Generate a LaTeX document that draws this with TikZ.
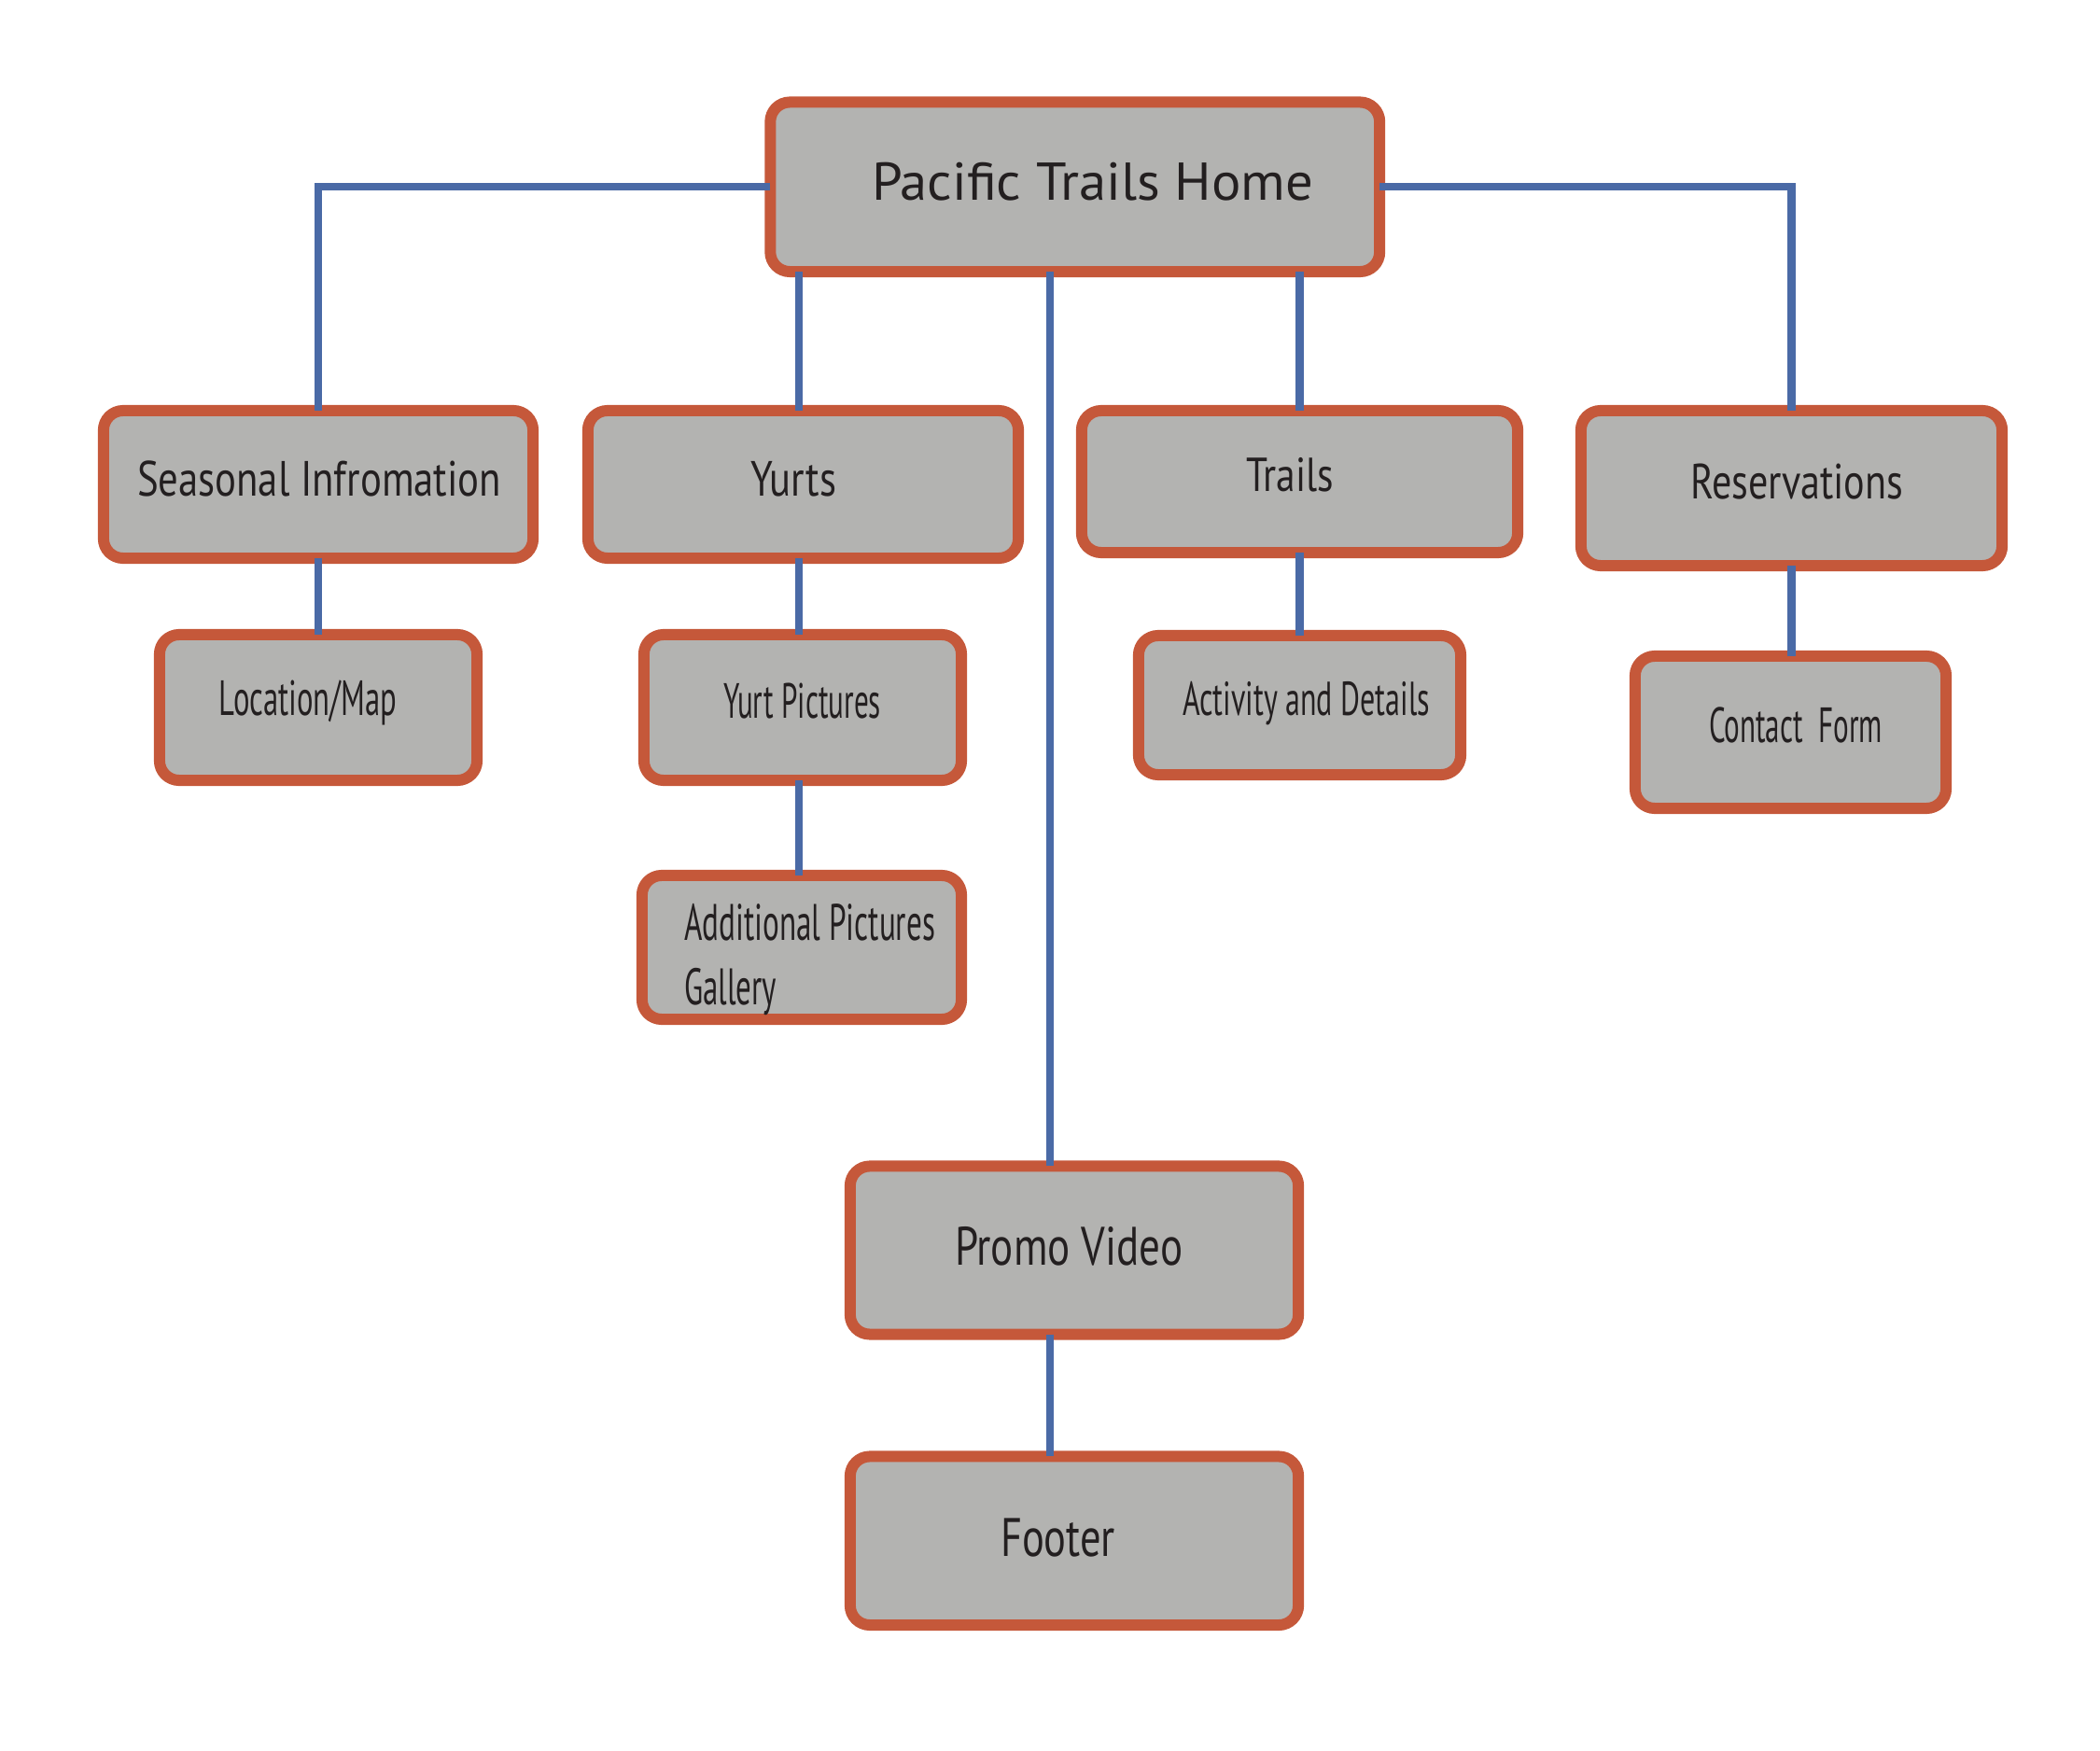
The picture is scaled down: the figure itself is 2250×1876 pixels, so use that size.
\documentclass[tikz,border=0pt]{standalone}
\usepackage{fontspec}
\setmainfont{PT Sans}
\usepackage{graphicx}
\definecolor{bord}{HTML}{C5583A}
\definecolor{boxg}{HTML}{B3B3B1}
\definecolor{lnk}{HTML}{4A6AA6}
\definecolor{txt}{HTML}{231F20}
\newcommand{\lab}[3]{\resizebox{#1cm}{\height}{\fontsize{#2cm}{#2cm}\selectfont #3}}
\tikzset{
  box/.style={rectangle, draw=bord, fill=boxg, line width=0.12cm, rounded corners=0.21cm, inner sep=0pt, outer sep=0pt},
  conn/.style={draw=lnk, line width=0.085cm},
  lbl/.style={anchor=base west, inner sep=0pt, outer sep=0pt, text=txt}
}
\begin{document}
\begin{tikzpicture}[x=0.01cm, y=-0.01cm]
\useasboundingbox (0,0) rectangle (2250,1876);
% boxes
\node[box, minimum width=6.525cm, minimum height=1.815cm] (home) at (1151.75,200.25) {};
\node[box, minimum width=4.60cm, minimum height=1.58cm] (seasonal) at (341,519) {};
\node[box, minimum width=4.61cm, minimum height=1.58cm] (yurts) at (860.5,519) {};
\node[box, minimum width=4.67cm, minimum height=1.52cm] (trails) at (1392.5,516) {};
\node[box, minimum width=4.51cm, minimum height=1.66cm] (reserv) at (1919.5,523) {};
\node[box, minimum width=3.40cm, minimum height=1.56cm] (location) at (341,758) {};
\node[box, minimum width=3.40cm, minimum height=1.56cm] (yurtpics) at (860,758) {};
\node[box, minimum width=3.45cm, minimum height=1.49cm] (activity) at (1392.5,755.5) {};
\node[box, minimum width=3.33cm, minimum height=1.63cm] (contact) at (1918.5,784.5) {};
\node[box, minimum width=3.42cm, minimum height=1.54cm] (additional) at (859,1015) {};
\node[box, minimum width=4.80cm, minimum height=1.80cm] (promo) at (1151,1339.5) {};
\node[box, minimum width=4.80cm, minimum height=1.805cm] (footer) at (1151,1650.75) {};
% connectors
\draw[conn] (home.west) -| (seasonal.north);
\draw[conn] (home.east) -| (reserv.north);
\coordinate (yline) at (856,0);
\draw[conn] (yline |- home.south) -- (yline |- yurts.north);
\draw[conn] (trails.north |- home.south) -- (trails.north);
\coordinate (vline) at (1125,0);
\draw[conn] (vline |- home.south) -- (vline |- promo.north);
\draw[conn] (vline |- promo.south) -- (vline |- footer.north);
\draw[conn] (seasonal.south) -- (location.north);
\draw[conn] (yline |- yurts.south) -- (yline |- yurtpics.north);
\draw[conn] (yline |- yurtpics.south) -- (yline |- additional.north);
\draw[conn] (trails.south) -- (activity.north);
\draw[conn] (reserv.south) -- (reserv.south |- contact.north);
% labels
\node[lbl] (home-t) at (934,215) {\lab{4.73}{0.57}{Pacific Trails Home}};
\node[lbl] (seasonal-t) at (147,532) {\lab{3.90}{0.53}{Seasonal Infromation}};
\node[lbl] (yurts-t) at (804,532) {\lab{0.92}{0.53}{Yurts}};
\node[lbl] (trails-t) at (1335,527) {\lab{0.94}{0.51}{Trails}};
\node[lbl] (reserv-t) at (1811,535) {\lab{2.28}{0.53}{Reservations}};
\node[lbl] (location-t) at (235,767) {\lab{1.90}{0.53}{Location/Map}};
\node[lbl] (yurtpics-t) at (775,770) {\lab{1.69}{0.53}{Yurt Pictures}};
\node[lbl] (activity-t) at (1267,767) {\lab{2.65}{0.51}{Activity and Details}};
\node[lbl] (contact-t) at (1831,796) {\lab{1.86}{0.53}{Contact\ \ Form}};
\node[lbl] (additional-t1) at (733,1007) {\lab{2.69}{0.55}{Additional Pictures}};
\node[lbl] (additional-t2) at (733,1076) {\lab{0.99}{0.55}{Gallery}};
\node[lbl] (promo-t) at (1023,1355) {\lab{2.44}{0.58}{Promo Video}};
\node[lbl] (footer-t) at (1072,1667) {\lab{1.23}{0.58}{Footer}};
\end{tikzpicture}
\end{document}
